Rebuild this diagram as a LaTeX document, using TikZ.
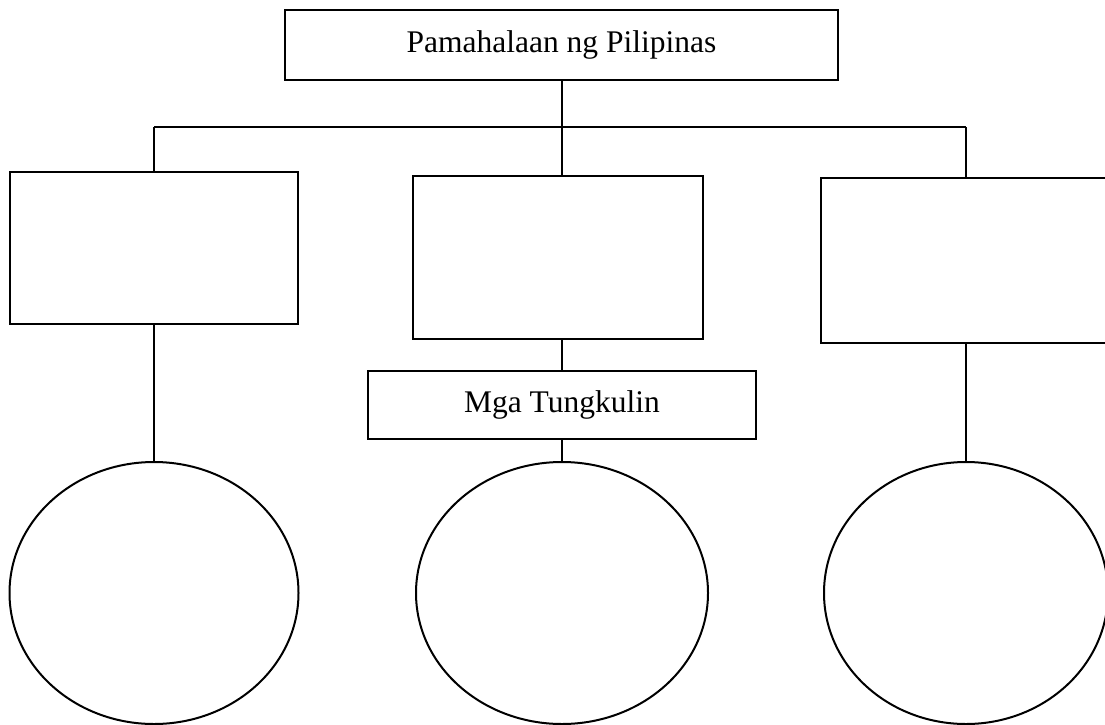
\documentclass[tikz,border=0pt]{standalone}
\usepackage{fontspec}
\setmainfont{Liberation Serif}
\usetikzlibrary{shapes.geometric}
\begin{document}
\begin{tikzpicture}[x=1pt,y=-1pt,
  box/.style={draw,line width=2pt,rectangle,inner sep=0pt,font=\fontsize{31.5}{36}\selectfont},
  oval/.style={draw,line width=2pt,ellipse,inner sep=0pt},
  conn/.style={line width=2pt}]
\useasboundingbox (0,0) rectangle (1105,725);
\node[box,minimum width=553pt,minimum height=70pt] (top) at (561.5,45) {Pamahalaan ng Pilipinas};
\node[box,minimum width=288pt,minimum height=152pt] (left) at (154,248) {};
\node[box,minimum width=290pt,minimum height=163pt] (mid) at (558,257.5) {};
\node[box,minimum width=290pt,minimum height=165pt] (right) at (966,260.5) {};
\node[box,minimum width=388pt,minimum height=68pt] (tung) at (562,405) {Mga Tungkulin};
\node[oval,minimum width=289pt,minimum height=262pt] (lov) at (154,593) {};
\node[oval,minimum width=292pt,minimum height=262pt] (mov) at (562,593) {};
\node[oval,minimum width=284pt,minimum height=262pt] (rov) at (966,593) {};
\coordinate (jm) at (562,127);
\coordinate (jl) at (154,127);
\coordinate (jr) at (966,127);
\draw[conn] (top.south -| jm) -- (jm);
\draw[conn] (jl) -- (jr);
\draw[conn] (jl) -- (left.north);
\draw[conn] (jm) -- (jm |- mid.north);
\draw[conn] (jr) -- (right.north);
\draw[conn] (mid.south -| tung.north) -- (tung.north);
\draw[conn] (tung.south) -- (mov.north);
\draw[conn] (left.south) -- (lov.north);
\draw[conn] (right.south) -- (rov.north);
\end{tikzpicture}
\end{document}
